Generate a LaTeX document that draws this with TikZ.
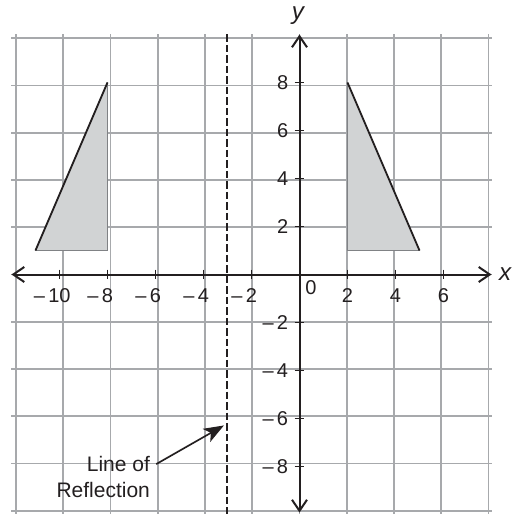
\documentclass[tikz,border=0pt]{standalone}
\usepackage{fontspec}
\setsansfont{Liberation Sans}
\usetikzlibrary{arrows.meta}
\definecolor{pcFFFFFF}{HTML}{FFFFFF}
\definecolor{pcA7A9AC}{HTML}{A7A9AC}
\definecolor{pcD1D3D4}{HTML}{D1D3D4}
\definecolor{pc808285}{HTML}{808285}
\definecolor{pc231F20}{HTML}{231F20}

\begin{document}
\begin{tikzpicture}[x=14.4bp, y=14.4bp,
  gridline/.style={line width=1.100bp, color=pcA7A9AC},
  axisline/.style={line width=1.200bp, color=pc231F20, {Straight Barb[length=6.6bp,width=9bp]}-{Straight Barb[length=6.6bp,width=9bp]}},
  axtick/.style={line width=1.000bp, color=pc231F20},
  triedge/.style={line width=1.100bp, color=pc808285},
  hypot/.style={line width=1.100bp, color=pc231F20},
  numlabel/.style={inner sep=0, text=pc231F20, font=\sffamily\fontsize{12bp}{14.4bp}\selectfont},
  axname/.style={inner sep=0, text=pc231F20, font=\sffamily\itshape\fontsize{14.5bp}{17.4bp}\selectfont},
  notelabel/.style={inner sep=3.6bp, anchor=east, text=pc231F20, font=\sffamily\fontsize{12.6bp}{15.1bp}\selectfont},
  pointer/.style={line width=1.000bp, color=pc231F20, -{Stealth[length=12bp,width=9bp,inset=3bp]}}]
\path[use as bounding box] (-12.4792,-9.9792) rectangle (8.9792,11.4375);
\path[fill=pcFFFFFF] (-12.4792,-9.9792) rectangle (8.9792,11.4375);
\draw[gridline] (-12,-9.99) grid (8,10);
\path[fill=pcD1D3D4] (-11,1) -- (-8,8) -- (-8,1) -- cycle;
\draw[triedge] (-8,8) -- (-8,1) -- (-11,1);
\draw[hypot] (-11,1) -- (-8,8);
\path[fill=pcD1D3D4] (2,8) -- (5,1) -- (2,1) -- cycle;
\draw[triedge] (2,8) -- (2,1) -- (5,1);
\draw[hypot] (2,8) -- (5,1);
\draw[line width=1.200bp, color=pc231F20, dash pattern=on 4.5bp off 1.8bp] (-3,10) -- (-3,-10);
\draw[axisline] (-12,0) -- (8,0);
\draw[axisline] (0,-9.92) -- (0,10);
\draw[axtick] (-10,0.2) -- (-10,-0.2);
\node[numlabel] (xm10) at (-10,-0.86) {\llap{–\kern2bp}10};
\draw[axtick] (-8,0.2) -- (-8,-0.2);
\node[numlabel] (xm8) at (-8,-0.86) {\llap{–\kern2bp}8};
\draw[axtick] (-6,0.2) -- (-6,-0.2);
\node[numlabel] (xm6) at (-6,-0.86) {\llap{–\kern2bp}6};
\draw[axtick] (-4,0.2) -- (-4,-0.2);
\node[numlabel] (xm4) at (-4,-0.86) {\llap{–\kern2bp}4};
\draw[axtick] (-2,0.2) -- (-2,-0.2);
\node[numlabel] (xm2) at (-2,-0.86) {\llap{–\kern2bp}2};
\draw[axtick] (2,0.2) -- (2,-0.2);
\node[numlabel] (xp2) at (2,-0.86) {2};
\draw[axtick] (4,0.2) -- (4,-0.2);
\node[numlabel] (xp4) at (4,-0.86) {4};
\draw[axtick] (6,0.2) -- (6,-0.2);
\node[numlabel] (xp6) at (6,-0.86) {6};
\node[numlabel] (orig) at (0.48,-0.56) {0};
\draw[axtick] (-0.2,8) -- (0.2,8);
\node[numlabel, anchor=east] (yp8) at (-0.46,8) {8};
\draw[axtick] (-0.2,6) -- (0.2,6);
\node[numlabel, anchor=east] (yp6) at (-0.46,6) {6};
\draw[axtick] (-0.2,4) -- (0.2,4);
\node[numlabel, anchor=east] (yp4) at (-0.46,4) {4};
\draw[axtick] (-0.2,2) -- (0.2,2);
\node[numlabel, anchor=east] (yp2) at (-0.46,2) {2};
\draw[axtick] (-0.2,-2) -- (0.2,-2);
\node[numlabel, anchor=east] (ym2) at (-0.46,-2) {\llap{–\kern2bp}2};
\draw[axtick] (-0.2,-4) -- (0.2,-4);
\node[numlabel, anchor=east] (ym4) at (-0.46,-4) {\llap{–\kern2bp}4};
\draw[axtick] (-0.2,-6) -- (0.2,-6);
\node[numlabel, anchor=east] (ym6) at (-0.46,-6) {\llap{–\kern2bp}6};
\draw[axtick] (-0.2,-8) -- (0.2,-8);
\node[numlabel, anchor=east] (ym8) at (-0.46,-8) {\llap{–\kern2bp}8};
\node[axname] (xname) at (8.57,0.02) {x};
\node[axname] (yname) at (-0.07,10.78) {y};
\node[notelabel] (lineof) at (-5.97,-7.9) {Line of};
\node[notelabel] (reflect) at (-5.97,-8.98) {Reflection};
\coordinate (ptr) at (-3.15,-6.29);
\draw[pointer] (lineof.east) -- (ptr);
\end{tikzpicture}
\end{document}
